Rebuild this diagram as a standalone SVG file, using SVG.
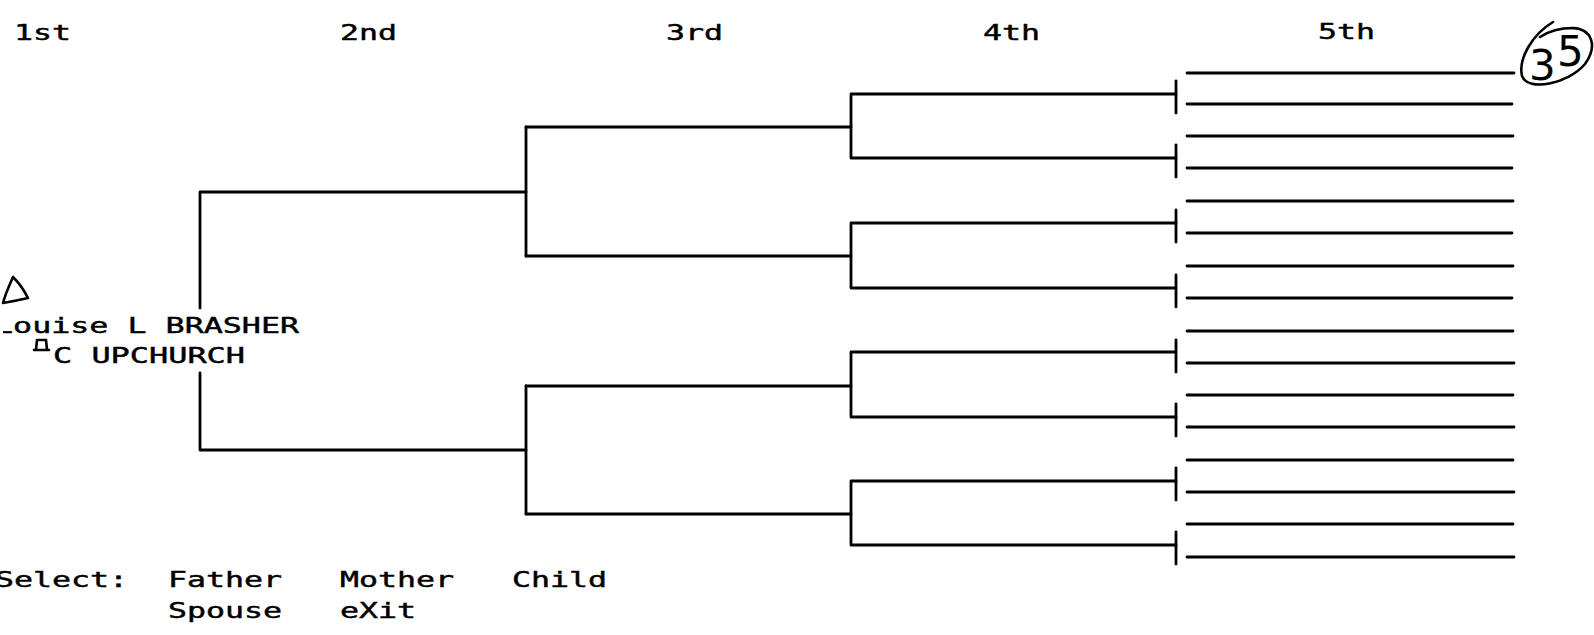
<svg xmlns="http://www.w3.org/2000/svg" width="1594" height="635" viewBox="0 0 1594 635">
<style>
.t{font-family:"DejaVu Sans Mono","Liberation Mono",monospace;font-size:22px;fill:#000;stroke:#000;stroke-width:0.45px}
.ln{stroke:#000;stroke-width:2.8;fill:none;stroke-linecap:round;stroke-linejoin:round}
.hand{stroke:#000;stroke-width:2.6;fill:none;stroke-linecap:round;stroke-linejoin:round}
.hn{font-family:"DejaVu Sans",sans-serif;font-size:42px;fill:#000}
</style>
<defs>
<clipPath id="leftcut"><rect x="3" y="0" width="1594" height="635"/></clipPath>
</defs>
<rect width="1594" height="635" fill="#fff"/>
<g id="headings">
<text class="t" x="14" y="40" textLength="57" lengthAdjust="spacingAndGlyphs">1st</text>
<text class="t" x="340" y="40" textLength="57" lengthAdjust="spacingAndGlyphs">2nd</text>
<text class="t" x="666" y="40" textLength="57" lengthAdjust="spacingAndGlyphs">3rd</text>
<text class="t" x="983" y="40" textLength="57" lengthAdjust="spacingAndGlyphs">4th</text>
<text class="t" x="1318" y="39" textLength="57" lengthAdjust="spacingAndGlyphs">5th</text>
</g>
<g id="person-1">
<path class="hand" d="M13,277 C9,286 5,295 3,303 Q15,301 28,298 Q22,286 13,277 Z"/>
<text class="t" x="-6" y="333" textLength="305" lengthAdjust="spacingAndGlyphs" clip-path="url(#leftcut)">Louise L BRASHER</text>
<path class="hand" stroke-width="1.7" d="M37,340 L46,340 M37,340 L36,350 M46,340 L47,350 M34,350 L49,350"/>
<text class="t" x="53" y="363" textLength="192" lengthAdjust="spacingAndGlyphs">C UPCHURCH</text>
</g>
<g id="connectors">
<path class="ln" d="M200,308 V192 H526 M200,373 V450 H526"/>
<path class="ln" d="M526,127 V256 M526,386 V514"/>
<path class="ln" d="M526,127 H851 M526,256 H851 M526,386 H851 M526,514 H851"/>
<path class="ln" d="M1176,94 H851 V158 H1176 M1176,223 H851 V288 H1176 M1176,352 H851 V417 H1176 M1176,481 H851 V545 H1176"/>
<path class="ln" d="M1176,81 V113 M1176,145 V177 M1176,210 V242 M1176,275 V307 M1176,340 V372 M1176,404 V436 M1176,468 V500 M1176,532 V564"/>
</g>
<g id="gen5-slots">
<path class="ln" d="M1187,73 H1514 M1187,104 H1512 M1187,136 H1513 M1187,168 H1512 M1187,201 H1513 M1187,233 H1512 M1187,266 H1513 M1187,298 H1512 M1187,331 H1513 M1187,363 H1514 M1187,395 H1513 M1187,427 H1514 M1187,460 H1513 M1187,492 H1514 M1187,524 H1513 M1187,557 H1514"/>
</g>
<g id="menu">
<text class="t" x="-5" y="587" textLength="133" lengthAdjust="spacingAndGlyphs">Select:</text>
<text class="t" x="168" y="587" textLength="114" lengthAdjust="spacingAndGlyphs">Father</text>
<text class="t" x="340" y="587" textLength="114" lengthAdjust="spacingAndGlyphs">Mother</text>
<text class="t" x="512" y="587" textLength="95" lengthAdjust="spacingAndGlyphs">Child</text>
<text class="t" x="168" y="618" textLength="114" lengthAdjust="spacingAndGlyphs">Spouse</text>
<text class="t" x="340" y="618" textLength="76" lengthAdjust="spacingAndGlyphs">eXit</text>
</g>
<g id="annotation">
<path class="hand" d="M1553,22 C1533,34 1518,58 1522,76 C1528,92 1568,84 1585,64 C1598,46 1592,29 1573,28 C1561,28 1549,31 1540,37"/>
<text class="hn" x="1529" y="80">3</text>
<text class="hn" x="1557" y="66">5</text>
</g>
</svg>
